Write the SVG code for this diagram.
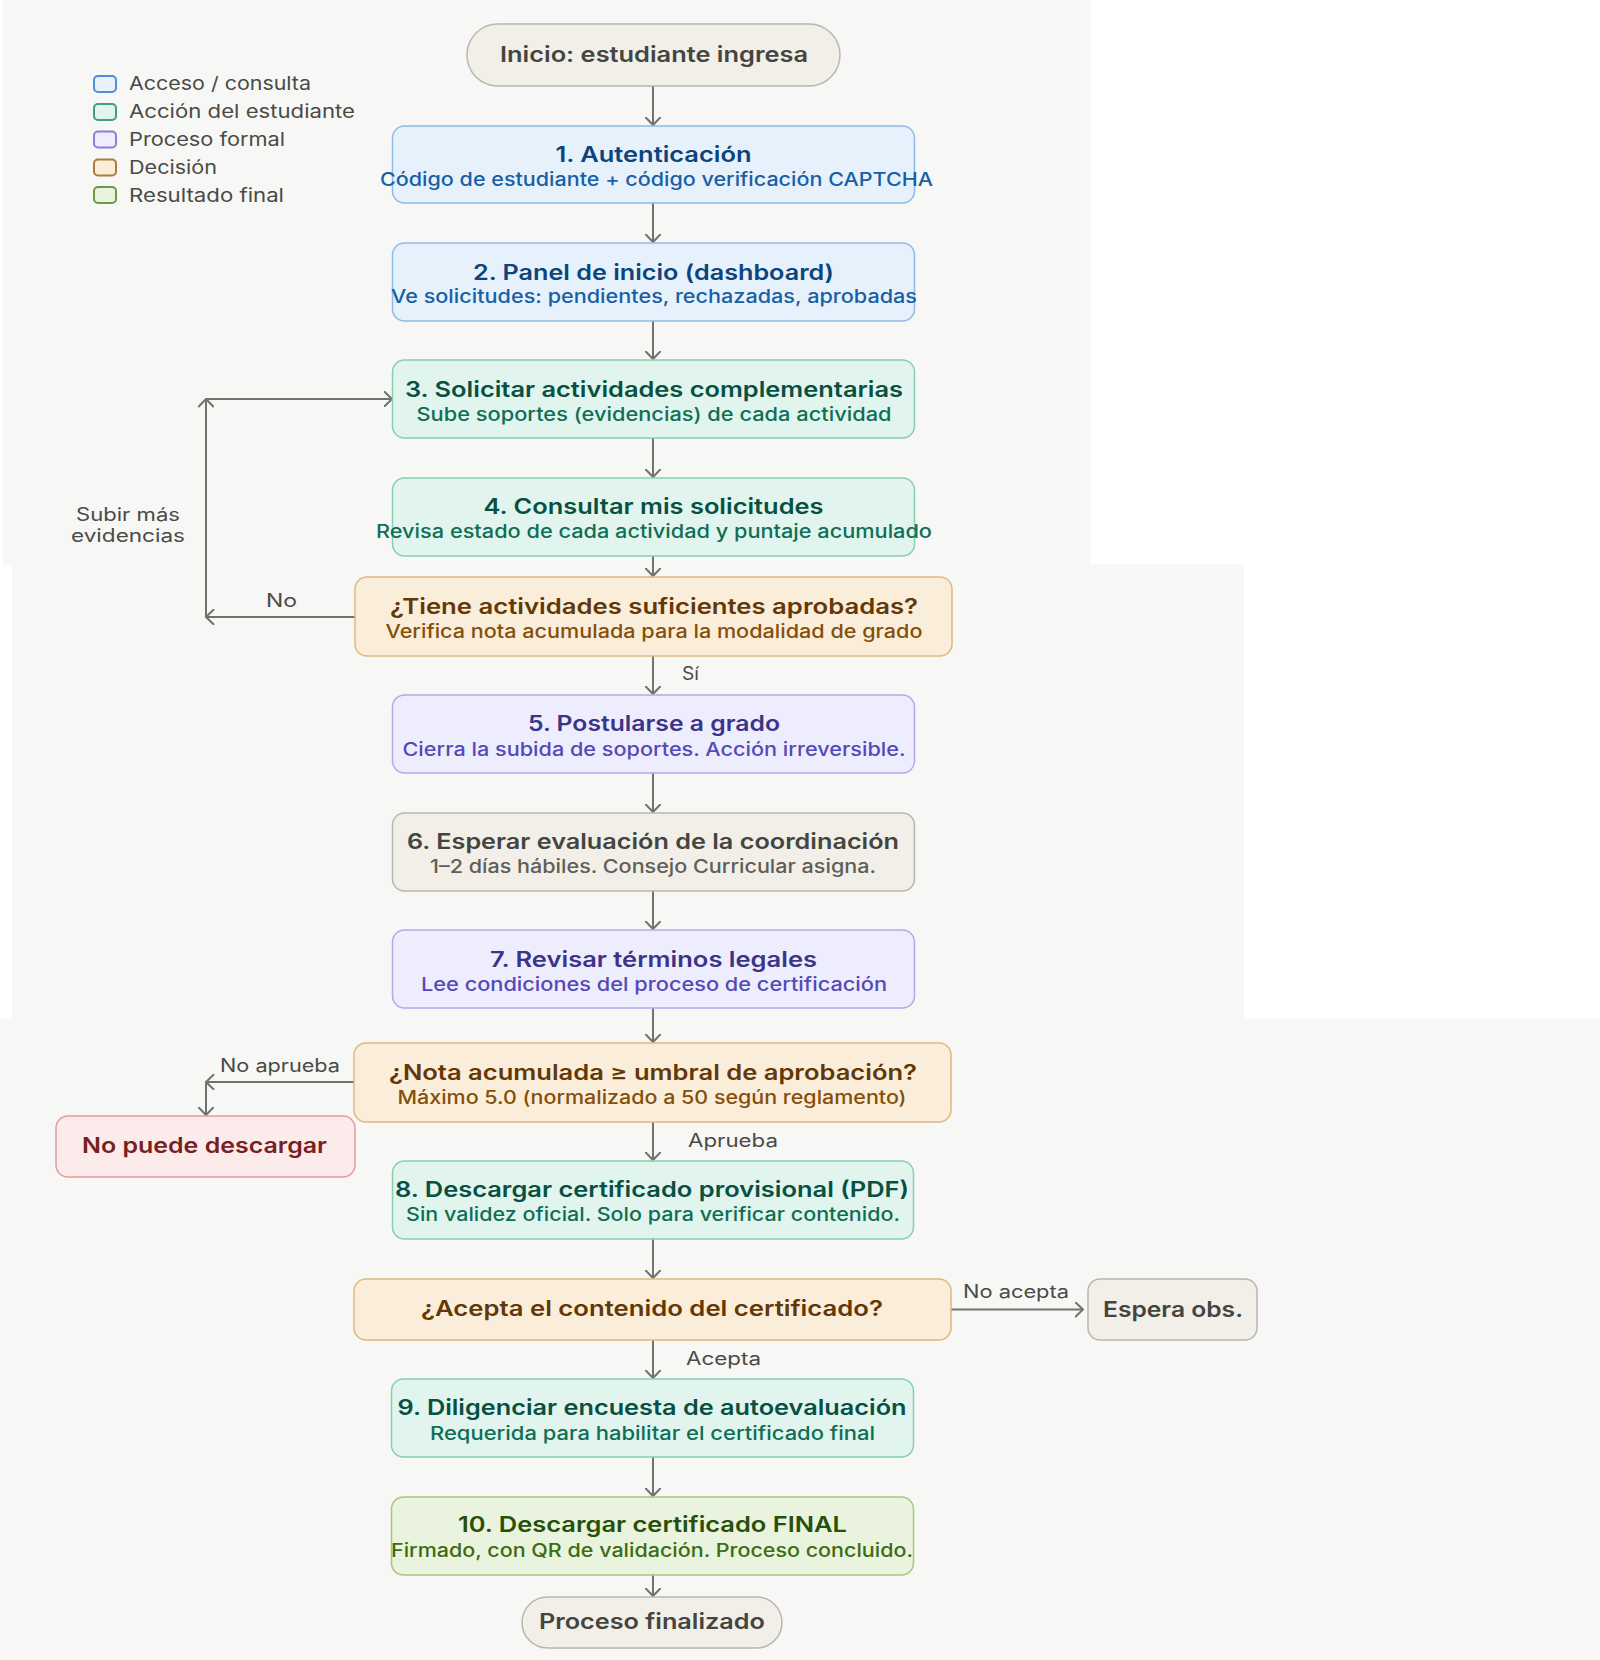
<svg xmlns="http://www.w3.org/2000/svg" width="1600" height="1660" viewBox="0 0 1600 1660">
<defs>
<marker id="arr" viewBox="0 0 10 16" markerWidth="10" markerHeight="16" refX="8.5" refY="8" orient="auto" markerUnits="userSpaceOnUse">
<path d="M1,0.8 L8.5,8 L1,15.2" fill="none" stroke="#73726c" stroke-width="2" stroke-linecap="round" stroke-linejoin="round"/>
</marker>
<style>
text{font-family:Inter,"Liberation Sans","DejaVu Sans",sans-serif;}
.t{font-size:21.5px;font-weight:600;text-anchor:middle;}
.s{font-size:18.5px;font-weight:500;text-anchor:middle;}
.lbl{font-size:18px;font-weight:400;fill:#4a4a47;}
.leg{font-size:18.5px;font-weight:400;fill:#4a4a47;}
.con{stroke:#73726c;stroke-width:2;fill:none;marker-end:url(#arr);}
.blue rect{fill:#e6f1fb;stroke:#8fbbe8;stroke-width:1.5;}
.blue .t{fill:#0c447c;} .blue .s{fill:#185fa5;}
.teal rect{fill:#e1f5ee;stroke:#86cfb3;stroke-width:1.5;}
.teal .t{fill:#085041;} .teal .s{fill:#0f6e56;}
.purple rect{fill:#eeedfe;stroke:#b0aaea;stroke-width:1.5;}
.purple .t{fill:#3c3489;} .purple .s{fill:#534ab7;}
.amber rect{fill:#faeeda;stroke:#e0b880;stroke-width:1.5;}
.amber .t{fill:#633806;} .amber .s{fill:#854f0b;}
.gray rect{fill:#f1efe8;stroke:#b8b6ad;stroke-width:1.5;}
.gray .t{fill:#444441;} .gray .s{fill:#5f5e5a;}
.red rect{fill:#fcebeb;stroke:#e59b9b;stroke-width:1.5;}
.red .t{fill:#791f1f;}
.green rect{fill:#eaf3de;stroke:#a3c97a;stroke-width:1.5;}
.green .t{fill:#27500a;} .green .s{fill:#3b6d11;}
</style>
</defs>

<g id="background">
<rect x="0" y="0" width="1600" height="1660" fill="#ffffff"/>
<rect x="3" y="0" width="1088" height="565" fill="#f7f7f5"/>
<rect x="12" y="564" width="1232" height="456" fill="#f7f7f5"/>
<rect x="0" y="1019" width="1600" height="641" fill="#f7f7f5"/>
</g>

<g id="legend">
<rect x="94" y="76" width="22" height="16" rx="4" fill="#e6f1fb" stroke="#4f8fd0" stroke-width="2"/>
<text class="leg" x="129" y="90" textLength="182" lengthAdjust="spacingAndGlyphs">Acceso / consulta</text>
<rect x="94" y="104" width="22" height="16" rx="4" fill="#e1f5ee" stroke="#3f9f80" stroke-width="2"/>
<text class="leg" x="129" y="118" textLength="226" lengthAdjust="spacingAndGlyphs">Acción del estudiante</text>
<rect x="94" y="131.5" width="22" height="16" rx="4" fill="#eeedfe" stroke="#8a80d8" stroke-width="2"/>
<text class="leg" x="129" y="146" textLength="156" lengthAdjust="spacingAndGlyphs">Proceso formal</text>
<rect x="94" y="159.5" width="22" height="16" rx="4" fill="#faeeda" stroke="#b07a3a" stroke-width="2"/>
<text class="leg" x="129" y="174" textLength="88" lengthAdjust="spacingAndGlyphs">Decisión</text>
<rect x="94" y="187" width="22" height="16" rx="4" fill="#eaf3de" stroke="#6a9a48" stroke-width="2"/>
<text class="leg" x="129" y="202" textLength="155" lengthAdjust="spacingAndGlyphs">Resultado final</text>
</g>

<g id="connectors">
<line class="con" x1="653" y1="86" x2="653" y2="125"/>
<line class="con" x1="653" y1="203" x2="653" y2="242"/>
<line class="con" x1="653" y1="321" x2="653" y2="359"/>
<line class="con" x1="653" y1="438" x2="653" y2="477"/>
<line class="con" x1="653" y1="556" x2="653" y2="576"/>
<line class="con" x1="653" y1="656" x2="653" y2="694"/>
<line class="con" x1="653" y1="773" x2="653" y2="812"/>
<line class="con" x1="653" y1="891" x2="653" y2="929"/>
<line class="con" x1="653" y1="1008" x2="653" y2="1042"/>
<line class="con" x1="653" y1="1122" x2="653" y2="1160"/>
<line class="con" x1="653" y1="1239" x2="653" y2="1278"/>
<line class="con" x1="653" y1="1340" x2="653" y2="1378"/>
<line class="con" x1="653" y1="1457" x2="653" y2="1496"/>
<line class="con" x1="653" y1="1575" x2="653" y2="1596"/>
<line class="con" x1="355" y1="617" x2="206" y2="617"/>
<line class="con" x1="206" y1="617" x2="206" y2="399"/>
<line class="con" x1="206" y1="399" x2="392" y2="399"/>
<line class="con" x1="354" y1="1082" x2="206" y2="1082"/>
<line class="con" x1="206" y1="1082" x2="206" y2="1115"/>
<line class="con" x1="951" y1="1309.5" x2="1083" y2="1309.5"/>
<text class="lbl" x="128" y="521" text-anchor="middle" textLength="104" lengthAdjust="spacingAndGlyphs">Subir más</text>
<text class="lbl" x="128" y="542" text-anchor="middle" textLength="114" lengthAdjust="spacingAndGlyphs">evidencias</text>
<text class="lbl" x="266" y="607" textLength="31" lengthAdjust="spacingAndGlyphs">No</text>
<text class="lbl" x="682" y="680" textLength="17" lengthAdjust="spacingAndGlyphs">Sí</text>
<text class="lbl" x="220" y="1072" textLength="120" lengthAdjust="spacingAndGlyphs">No aprueba</text>
<text class="lbl" x="688" y="1147" textLength="90" lengthAdjust="spacingAndGlyphs">Aprueba</text>
<text class="lbl" x="963" y="1298" textLength="106" lengthAdjust="spacingAndGlyphs">No acepta</text>
<text class="lbl" x="686" y="1365" textLength="75" lengthAdjust="spacingAndGlyphs">Acepta</text>
</g>

<g id="start" class="gray">
<rect x="467" y="24" width="373" height="62" rx="31"/>
<text class="t" x="654" y="62" textLength="308" lengthAdjust="spacingAndGlyphs">Inicio: estudiante ingresa</text>
</g>

<g id="n1" class="blue">
<rect x="392.5" y="126" width="522" height="77" rx="12"/>
<text class="t" x="653.5" y="162" textLength="196" lengthAdjust="spacingAndGlyphs">1. Autenticación</text>
<text class="s" x="656.5" y="186" textLength="553" lengthAdjust="spacingAndGlyphs">Código de estudiante + código verificación CAPTCHA</text>
</g>

<g id="n2" class="blue">
<rect x="392.5" y="243" width="522" height="78" rx="12"/>
<text class="t" x="653.5" y="280" textLength="361" lengthAdjust="spacingAndGlyphs">2. Panel de inicio (dashboard)</text>
<text class="s" x="654" y="303" textLength="526" lengthAdjust="spacingAndGlyphs">Ve solicitudes: pendientes, rechazadas, aprobadas</text>
</g>

<g id="n3" class="teal">
<rect x="392.5" y="360" width="522" height="78" rx="12"/>
<text class="t" x="654" y="397" textLength="498" lengthAdjust="spacingAndGlyphs">3. Solicitar actividades complementarias</text>
<text class="s" x="654" y="421" textLength="475" lengthAdjust="spacingAndGlyphs">Sube soportes (evidencias) de cada actividad</text>
</g>

<g id="n4" class="teal">
<rect x="392.5" y="478" width="522" height="78" rx="12"/>
<text class="t" x="653.5" y="514" textLength="340" lengthAdjust="spacingAndGlyphs">4. Consultar mis solicitudes</text>
<text class="s" x="654" y="538" textLength="556" lengthAdjust="spacingAndGlyphs">Revisa estado de cada actividad y puntaje acumulado</text>
</g>

<g id="d1" class="amber">
<rect x="355" y="577" width="597" height="79" rx="12"/>
<text class="t" x="654" y="614" textLength="528" lengthAdjust="spacingAndGlyphs">¿Tiene actividades suficientes aprobadas?</text>
<text class="s" x="654" y="638" textLength="537" lengthAdjust="spacingAndGlyphs">Verifica nota acumulada para la modalidad de grado</text>
</g>

<g id="n5" class="purple">
<rect x="392.5" y="695" width="522" height="78" rx="12"/>
<text class="t" x="654" y="731" textLength="252" lengthAdjust="spacingAndGlyphs">5. Postularse a grado</text>
<text class="s" x="654" y="756" textLength="503" lengthAdjust="spacingAndGlyphs">Cierra la subida de soportes. Acción irreversible.</text>
</g>

<g id="n6" class="gray">
<rect x="392.5" y="813" width="522" height="78" rx="12"/>
<text class="t" x="653" y="849" textLength="492" lengthAdjust="spacingAndGlyphs">6. Esperar evaluación de la coordinación</text>
<text class="s" x="653" y="873" textLength="446" lengthAdjust="spacingAndGlyphs">1–2 días hábiles. Consejo Curricular asigna.</text>
</g>

<g id="n7" class="purple">
<rect x="392.5" y="930" width="522" height="78" rx="12"/>
<text class="t" x="653.5" y="967" textLength="327" lengthAdjust="spacingAndGlyphs">7. Revisar términos legales</text>
<text class="s" x="654" y="991" textLength="466" lengthAdjust="spacingAndGlyphs">Lee condiciones del proceso de certificación</text>
</g>

<g id="d2" class="amber">
<rect x="354" y="1043" width="597" height="79" rx="12"/>
<text class="t" x="653" y="1080" textLength="528" lengthAdjust="spacingAndGlyphs">¿Nota acumulada ≥ umbral de aprobación?</text>
<text class="s" x="652" y="1104" textLength="509" lengthAdjust="spacingAndGlyphs">Máximo 5.0 (normalizado a 50 según reglamento)</text>
</g>

<g id="np" class="red">
<rect x="56" y="1116" width="299" height="61" rx="12"/>
<text class="t" x="204.5" y="1153" textLength="245" lengthAdjust="spacingAndGlyphs">No puede descargar</text>
</g>

<g id="n8" class="teal">
<rect x="392.5" y="1161" width="521" height="78" rx="12"/>
<text class="t" x="652" y="1197" textLength="514" lengthAdjust="spacingAndGlyphs">8. Descargar certificado provisional (PDF)</text>
<text class="s" x="653" y="1221" textLength="494" lengthAdjust="spacingAndGlyphs">Sin validez oficial. Solo para verificar contenido.</text>
</g>

<g id="d3" class="amber">
<rect x="354" y="1279" width="597" height="61" rx="12"/>
<text class="t" x="652" y="1316" textLength="462" lengthAdjust="spacingAndGlyphs">¿Acepta el contenido del certificado?</text>
</g>

<g id="eo" class="gray">
<rect x="1088" y="1279" width="169" height="61" rx="12"/>
<text class="t" x="1173" y="1316.5" textLength="140" lengthAdjust="spacingAndGlyphs">Espera obs.</text>
</g>

<g id="n9" class="teal">
<rect x="391.5" y="1379" width="522" height="78" rx="12"/>
<text class="t" x="652" y="1415" textLength="509" lengthAdjust="spacingAndGlyphs">9. Diligenciar encuesta de autoevaluación</text>
<text class="s" x="652.5" y="1440" textLength="445" lengthAdjust="spacingAndGlyphs">Requerida para habilitar el certificado final</text>
</g>

<g id="n10" class="green">
<rect x="391.5" y="1497" width="522" height="78" rx="12"/>
<text class="t" x="652.5" y="1532" textLength="389" lengthAdjust="spacingAndGlyphs">10. Descargar certificado FINAL</text>
<text class="s" x="652" y="1557" textLength="522" lengthAdjust="spacingAndGlyphs">Firmado, con QR de validación. Proceso concluido.</text>
</g>

<g id="end" class="gray">
<rect x="522" y="1597" width="260" height="51" rx="25.5"/>
<text class="t" x="652" y="1629" textLength="226" lengthAdjust="spacingAndGlyphs">Proceso finalizado</text>
</g>
</svg>
